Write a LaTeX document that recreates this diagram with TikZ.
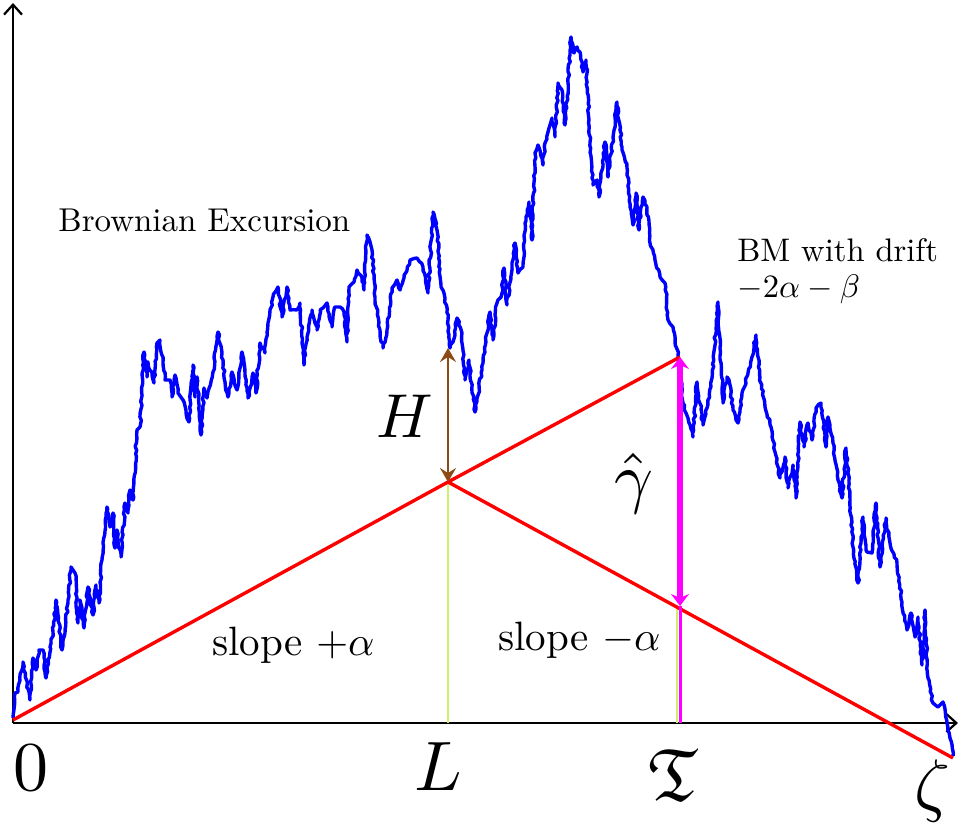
\documentclass[tikz,border=0pt]{standalone}
\usepackage{amssymb}
\usepackage{graphicx}
\usetikzlibrary{arrows.meta,decorations.pathmorphing}
\definecolor{bmblue}{RGB}{0,0,255}
\definecolor{hbrown}{RGB}{140,75,20}
\definecolor{lgreen}{RGB}{205,240,110}
\definecolor{mag}{RGB}{255,0,255}
\begin{document}
\begin{tikzpicture}[x=0.5pt,y=-0.5pt,
  axis/.style={line width=1.1pt,-{Straight Barb[length=5pt,width=9pt,line width=1.1pt]}},
  redline/.style={red,line width=1.7pt},
  bm/.style={bmblue,line width=1.7pt,line join=round},
  harrow/.style={hbrown,line width=1.1pt,{Stealth[length=7pt,width=8pt,inset=2.5pt]}-{Stealth[length=7pt,width=8pt,inset=2.5pt]}},
  garrow/.style={mag,line width=2.6pt,{Stealth[length=6pt,width=9pt,inset=2pt]}-{Stealth[length=6pt,width=9pt,inset=2pt]}},
  lbl/.style={anchor=base west,inner sep=0pt}]
\useasboundingbox (0,0) rectangle (958,834);
% key points
\coordinate (O) at (13,720);
\coordinate (Lp) at (448,482);
\coordinate (Tp) at (680,357);
\coordinate (Tb) at (680,606);
\coordinate (Zp) at (953,758);
\coordinate (Lx) at (448,723);
\coordinate (Tx) at (680,723);
\coordinate (Hp) at (448,348);
\coordinate (xend) at (958,723);
\coordinate (yend) at (13,3);
\coordinate (xo) at (13,723);
% axes
\draw[axis] (xo) -- (xend);
\draw[axis] (xo) -- (yend);
% green line
\draw[lgreen,line width=1.1pt] (Lp) -- (Lx);
\draw[lgreen,line width=1pt] ([xshift=-1.7]Tb) -- ([xshift=-1.7]Tx);
% brownian path
\pgfmathsetseed{11}
\draw[bm,decorate,decoration={random steps,segment length=1.8pt,amplitude=0.5pt}]
 plot coordinates {(13,718) (15,693) (18,692) (23,662) (30,700) (33,658) (36,670) (39,650) (43,650) (46,678) (50,647) (53,632) (56,600) (62,650) (65,633) (68,600) (71,567) (75,573) (78,623) (80,600) (84,628) (88,587) (93,615) (96,585) (99,603) (102,560) (107,507) (110,527) (113,513) (115,548) (117,530) (121,557) (125,503) (128,513) (130,490) (133,500) (137,430) (140,427) (144,352) (147,377) (148,362) (152,375) (154,383) (157,343) (160,340) (163,363) (165,380) (170,380) (172,397) (175,375) (178,393) (183,400) (189,422) (193,365) (195,397) (197,377) (201,435) (204,388) (207,398) (213,372) (218,332) (222,353) (225,382) (228,397) (232,372) (237,390) (242,352) (248,398)
 (253,373) (256,393) (260,343) (265,353) (268,323) (273,297) (278,287) (282,317) (287,287) (290,310) (297,310) (300,303) (304,365) (307,337) (312,310) (317,330) (320,310) (327,303) (332,327) (335,307) (340,307) (344,312) (347,342) (349,287) (354,282) (357,270) (362,278) (364,290) (367,235) (372,250) (375,297) (380,330) (383,348) (387,330) (392,288) (397,280) (400,290) (404,278) (410,260) (417,258) (423,267) (428,293) (433,212) (437,230) (441,287) (445,298) (448,320) (450,348) (455,335) (457,318) (462,333) (465,380) (469,360) (475,412) (482,370) (487,333) (490,312) (493,340) (497,303)
 (502,293) (504,268) (507,305) (512,267) (515,243) (518,273) (523,267) (526,217) (529,202) (532,240) (535,153) (538,145) (543,165) (545,143) (549,128) (552,118) (555,137) (558,83) (562,90) (565,125) (568,83) (571,37) (574,53) (577,47) (580,52) (583,72) (586,60) (589,120) (593,185) (597,180) (599,197) (605,142) (608,177) (613,137) (617,102) (622,147) (627,168) (630,207) (633,225) (636,193) (639,230) (643,197) (647,207) (650,243) (655,260) (660,277) (665,283) (668,320) (673,327) (678,355)
 (683,403) (688,418) (693,437) (697,382) (703,425) (707,408) (712,378) (718,302) (723,403) (727,377) (730,385) (733,410) (738,423) (742,393) (748,373) (752,357) (756,335) (760,377) (765,407) (771,427) (775,452) (780,478) (785,457) (788,488) (793,465) (796,498) (800,422) (804,447) (808,423) (812,440) (816,408) (821,403) (826,447) (828,417) (833,443) (838,480) (842,498) (846,448) (850,500) (853,547) (858,583) (863,517) (867,552) (872,553) (876,503) (880,567) (886,518) (890,543) (897,563) (902,602) (907,630) (911,613) (915,637) (918,617) (922,665) (925,610) (928,678) (933,703) (938,707) (943,702) (947,723) (950,738) (953,756)};
% red lines
\draw[redline] (O) -- (Lp) -- (Tp);
\draw[redline] (Lp) -- (Zp);
% arrows
\draw[harrow] (Lp) -- (Hp);
\draw[mag,line width=1.5pt] (Tb) -- (Tx);
\draw[garrow] (Tb) -- (Tp);
% labels
\node[lbl] (be) at (58,232) {\scalebox{1.65}{Brownian Excursion}};
\node[lbl] (bm) at (737,262) {\scalebox{1.63}{\renewcommand\arraystretch{0.9}\begin{tabular}[t]{@{}l@{}}BM with drift\\$-2\alpha-\beta$\end{tabular}}};
\node[lbl] (s1) at (212,655) {\scalebox{2.05}{slope $+\alpha$}};
\node[lbl] (s2) at (498,650) {\scalebox{2.05}{slope $-\alpha$}};
\node[lbl] (hl) at (376,437) {\scalebox{3.1}{$H$}};
\node[lbl] (gl) at (614,500) {\scalebox{3.4}{$\hat\gamma$}};
\node[lbl] (zero) at (13,790) {\scalebox{3.5}{$0$}};
\node[lbl] (ll) at (414,790) {\scalebox{3.5}{$L$}};
\node[lbl] (tl) at (648,800) {\scalebox{3.7}{$\mathfrak{T}$}};
\node[lbl] (zl) at (914,808) {\scalebox{3.5}{$\zeta$}};
\end{tikzpicture}
\end{document}
